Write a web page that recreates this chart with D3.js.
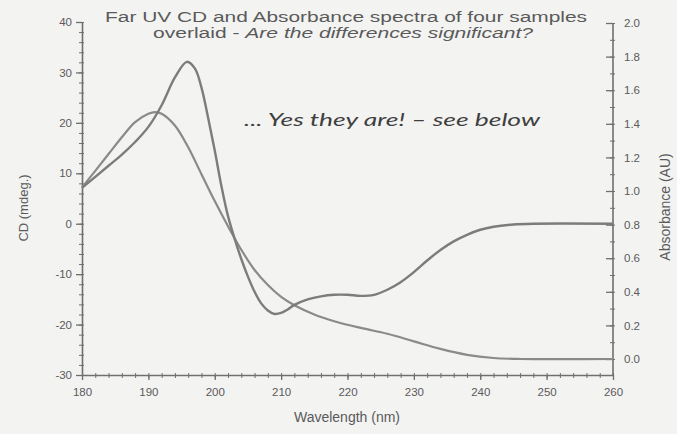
<!DOCTYPE html>
<html>
<head>
<meta charset="utf-8">
<script src="https://cdn.jsdelivr.net/npm/d3@7"></script>
<style>
  body { margin: 0; background: #f3f3f2; }
  svg { display: block; }
</style>
</head>
<body>
<svg id="chart" width="677" height="434"></svg>
<script>
// CD spectrum (mdeg)
const cdWavelength = [180, 182, 184, 186, 188, 190, 192, 194, 195.8, 197, 198, 199, 200, 201, 202, 203, 204, 205, 206, 207, 208, 209, 210, 211, 212, 214, 216, 218, 220, 222, 224, 226, 228, 230, 232, 234, 236, 238, 240, 242, 245, 248, 260];
const cdValues = [7.1, 9.3, 11.5, 13.7, 16.2, 19.2, 23.5, 29, 32.1, 30.8, 27, 21, 14.5, 7.5, 1.5, -3, -7, -10.5, -13.5, -15.8, -17.2, -17.9, -17.7, -17, -16.1, -15, -14.4, -14.1, -14.1, -14.3, -14.1, -13.1, -11.6, -9.6, -7.3, -5.2, -3.5, -2.2, -1.2, -0.6, -0.15, 0, 0];

// Absorbance spectrum (AU)
const absWavelength = [180, 182, 184, 186, 188, 190, 191, 192, 194, 196, 198, 200, 202, 204, 206, 208, 210, 212, 215, 218, 222, 226, 230, 234, 238, 242, 246, 260];
const absValues = [1.02, 1.12, 1.22, 1.32, 1.41, 1.46, 1.47, 1.46, 1.39, 1.26, 1.1, 0.94, 0.79, 0.65, 0.53, 0.44, 0.37, 0.32, 0.265, 0.225, 0.185, 0.15, 0.105, 0.06, 0.025, 0.006, 0, 0];

const xTicks = d3.range(180, 261, 10);
const cdTicks = d3.range(-30, 41, 10);
const absTicks = d3.range(0, 11).map(d => d / 5);

const titleLines = ["Far UV CD and Absorbance spectra of four samples", "overlaid - "];
const titleItalic = "Are the differences significant?";
const note = "... Yes they are!  \u2013 see below";

const svg = d3.select("#chart");
const axisColor = "#6f6f6f";
const textColor = "#5a5a5a";

const x = d3.scaleLinear().domain([180, 260]).range([82, 613]);
const yCD = d3.scaleLinear().domain([-30, 40]).range([375, 22]);
const yAbs = d3.scaleLinear().domain([0, 2]).range([359, 23]);

// minor ticks
const minorX = d3.range(180, 261, 2);
const minorCD = d3.range(-30, 41, 2);
const minorAbs = d3.range(0, 21).map(d => d / 10);

function styleAxis(g) {
  g.select(".domain").attr("stroke", axisColor).attr("stroke-width", 1.6);
  g.selectAll(".tick line").attr("stroke", axisColor).attr("stroke-width", 1.3);
  g.selectAll(".tick text")
    .attr("fill", textColor)
    .style("font-family", "Liberation Sans, Arial, sans-serif")
    .style("font-size", "11.5px");
}

// minor tick layers
svg.append("g").attr("transform", "translate(0,375)")
  .call(d3.axisBottom(x).tickValues(minorX).tickSize(3).tickFormat("").tickSizeOuter(0))
  .call(g => g.select(".domain").remove())
  .call(g => g.selectAll("line").attr("stroke", axisColor).attr("y1", -2));
svg.append("g").attr("transform", "translate(82,0)")
  .call(d3.axisLeft(yCD).tickValues(minorCD).tickSize(3).tickFormat("").tickSizeOuter(0))
  .call(g => g.select(".domain").remove())
  .call(g => g.selectAll("line").attr("stroke", axisColor).attr("x1", 2));
svg.append("g").attr("transform", "translate(613,0)")
  .call(d3.axisLeft(yAbs).tickValues(minorAbs).tickSize(3).tickFormat("").tickSizeOuter(0))
  .call(g => g.select(".domain").remove())
  .call(g => g.selectAll("line").attr("stroke", axisColor).attr("x1", 2));

// main axes
svg.append("g").attr("transform", "translate(0,375)")
  .call(d3.axisBottom(x).tickValues(xTicks).tickSize(5).tickSizeOuter(0).tickPadding(8))
  .call(styleAxis);

svg.append("g").attr("transform", "translate(82,0)")
  .call(d3.axisLeft(yCD).tickValues(cdTicks).tickSize(6).tickSizeOuter(0).tickPadding(4).tickFormat(d => String(d)))
  .call(styleAxis);

const rightAxis = svg.append("g").attr("transform", "translate(613,0)")
  .call(d3.axisRight(yAbs).tickValues(absTicks).tickSize(0).tickSizeOuter(0).tickPadding(11).tickFormat(d3.format(".1f")))
  .call(styleAxis);
rightAxis.select(".domain").attr("d", `M0,${yCD(-30)}V${yAbs(2)}`);
rightAxis.selectAll(".tick line").attr("x1", -7).attr("x2", 0);

// curves
const cdLine = d3.line()
  .x((d, i) => x(cdWavelength[i]))
  .y(d => yCD(d))
  .curve(d3.curveCatmullRom.alpha(0.5));
const absLine = d3.line()
  .x((d, i) => x(absWavelength[i]))
  .y(d => yAbs(d))
  .curve(d3.curveCatmullRom.alpha(0.5));

svg.append("path").datum(absValues)
  .attr("d", absLine).attr("fill", "none")
  .attr("stroke", "#8a8a8a").attr("stroke-width", 2.2);
svg.append("path").datum(cdValues)
  .attr("d", cdLine).attr("fill", "none")
  .attr("stroke", "#7c7c7c").attr("stroke-width", 2.4);

// title
const font = "Liberation Sans, Arial, sans-serif";
svg.append("text")
  .attr("x", 346).attr("y", 22).attr("text-anchor", "middle")
  .attr("textLength", 482).attr("lengthAdjust", "spacingAndGlyphs")
  .style("font-family", font).style("font-size", "14px").attr("fill", textColor)
  .text(titleLines[0]);
const t2 = svg.append("text")
  .attr("x", 153).attr("y", 38)
  .attr("textLength", 380).attr("lengthAdjust", "spacingAndGlyphs")
  .style("font-family", font).style("font-size", "14px").attr("fill", textColor);
t2.append("tspan").text(titleLines[1]);
t2.append("tspan").style("font-style", "italic").text(titleItalic);

// note
svg.append("text")
  .attr("x", 244).attr("y", 126)
  .attr("textLength", 296).attr("lengthAdjust", "spacingAndGlyphs")
  .style("font-family", "Lato, sans-serif").style("font-style", "italic")
  .style("font-size", "17px").attr("fill", "#3f3f3f")
  .text(note);

// axis titles
svg.append("text")
  .attr("x", 347).attr("y", 422).attr("text-anchor", "middle")
  .style("font-family", font).style("font-size", "14px").attr("fill", textColor)
  .text("Wavelength (nm)");
svg.append("text")
  .attr("transform", "translate(28,208) rotate(-90)").attr("text-anchor", "middle")
  .style("font-family", font).style("font-size", "13px").attr("fill", textColor)
  .text("CD (mdeg.)");
svg.append("text")
  .attr("transform", "translate(670,207) rotate(-90)").attr("text-anchor", "middle")
  .style("font-family", font).style("font-size", "14px").attr("fill", textColor)
  .text("Absorbance (AU)");
</script>
</body>
</html>
